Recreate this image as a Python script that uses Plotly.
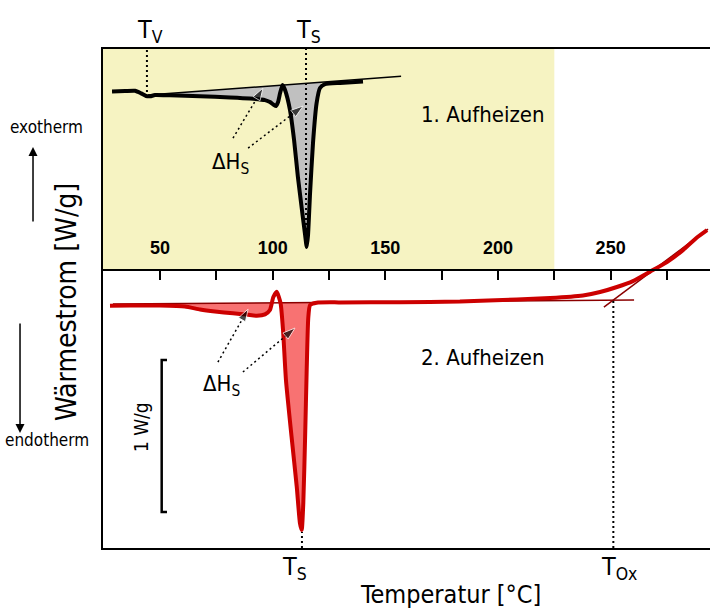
import numpy as np
import plotly.graph_objects as go

# ---------------- data ----------------
# 1. Aufheizen (first heating) : temperature [°C], heat flow [W/g] (relative)
T1 = [28.7, 34.5, 38.9, 41.6, 43.8, 45.6, 47.8, 54.4, 67.8, 81.1,
      89.9, 96.6, 98.8, 100.6, 101.5, 102.4, 103.3, 104.4, 105.5, 107.7,
      109.5, 111.2, 113.0, 114.4, 115.1, 115.7, 116.6, 117.9, 119.5, 121.0,
      123.2, 129.9, 140.1]
Q1 = [-0.010, -0.007, -0.005, -0.022, -0.039, -0.041, -0.033, -0.035, -0.041, -0.049,
      -0.056, -0.066, -0.079, -0.099, -0.105, -0.079, -0.020, 0.033, 0.000, -0.132,
      -0.329, -0.572, -0.789, -0.954, -1.033, -0.954, -0.678, -0.349, -0.086, 0.013,
      0.039, 0.047, 0.056]
BASE1_T = [44.7, 157.0]
BASE1_Q = [-0.033, 0.091]

# 2. Aufheizen (second heating)
T2 = [27.8, 36.7, 50.0, 61.1, 67.8, 74.4, 82.4, 88.6, 93.0, 96.6,
      98.8, 100.3, 101.8, 103.5, 104.6, 105.9, 108.4, 110.7, 112.1, 112.9,
      113.6, 114.4, 115.1, 115.8, 116.6, 119.5, 129.9, 156.5, 183.1, 208.4,
      223.1, 237.7, 245.3, 252.8, 259.9, 267.5, 275.0, 282.1, 288.3, 292.8]
Q2 = [-0.012, -0.010, -0.010, -0.016, -0.036, -0.049, -0.061, -0.069, -0.077, -0.068,
      -0.039, 0.046, 0.081, 0.007, -0.171, -0.500, -0.875, -1.204, -1.441, -1.487,
      -1.309, -0.875, -0.434, -0.092, -0.007, 0.009, 0.011, 0.012, 0.016, 0.030,
      0.039, 0.056, 0.079, 0.112, 0.151, 0.213, 0.276, 0.355, 0.438, 0.487]
BASE2_T = [29.1, 260.4]
BASE2_Q = [0.000, 0.026]
TANGENT2_T = [247.0, 293.2]
TANGENT2_Q = [-0.020, 0.493]

# characteristic temperatures
T_V = 44.2
T_S1 = 114.8
T_S2 = 113.0
T_OX = 251.2

# integration ranges (ΔH_S)
FILL1 = [(47.8, 104.4), (104.4, 121.5)]
FILL2 = [(56.0, 99.7), (103.4, 117.5)]

# scale bar
SCALE_WG = 1.0

# axis tick values
X_RANGE = [24.7, 294.1]
TICK_MAJOR = 50
TICK_MINOR = 25

# ---------------- styling / placement ----------------
OFF1 = 1.408     # vertical offset of first heating curve
Y_RANGE = [-1.605, 1.678]
MID = 0.5571     # paper position of the middle axis
FONT = "DejaVu Sans Condensed, DejaVu Sans, sans-serif"


def fill_poly(T, Q, bT, bQ, a, b, off=0.0):
    T = np.asarray(T, float)
    Q = np.asarray(Q, float)
    m = (T > a) & (T < b)
    xs = [a] + list(T[m]) + [b, b, a]
    ys = [np.interp(a, T, Q)] + list(Q[m]) + [np.interp(b, T, Q),
                                             np.interp(b, bT, bQ), np.interp(a, bT, bQ)]
    return xs, [v + off for v in ys]


fig = go.Figure()

# fills
for a, b in FILL1:
    xs, ys = fill_poly(T1, Q1, BASE1_T, BASE1_Q, a, b, OFF1)
    fig.add_trace(go.Scatter(x=xs, y=ys, fill="toself", fillcolor="#c0c0c0",
                             line=dict(width=0), mode="lines", hoverinfo="skip"))
for a, b in FILL2:
    xs, ys = fill_poly(T2, Q2, BASE2_T, BASE2_Q, a, b)
    fig.add_trace(go.Scatter(x=xs, y=ys, fill="toself", fillcolor="#f87272",
                             line=dict(width=0), mode="lines", hoverinfo="skip"))

# baselines / tangent
fig.add_trace(go.Scatter(x=BASE1_T, y=[q + OFF1 for q in BASE1_Q], mode="lines",
                         line=dict(color="black", width=1.5), hoverinfo="skip"))
fig.add_trace(go.Scatter(x=BASE2_T, y=BASE2_Q, mode="lines",
                         line=dict(color="#8b0000", width=1.5), hoverinfo="skip"))
fig.add_trace(go.Scatter(x=TANGENT2_T, y=TANGENT2_Q, mode="lines",
                         line=dict(color="#8b0000", width=1.5), hoverinfo="skip"))

# curves
fig.add_trace(go.Scatter(x=T1, y=[q + OFF1 for q in Q1], mode="lines",
                         line=dict(color="black", width=4, shape="spline", smoothing=0.5),
                         hoverinfo="skip"))
fig.add_trace(go.Scatter(x=T2, y=Q2, mode="lines",
                         line=dict(color="#cc0000", width=4, shape="spline", smoothing=0.5),
                         hoverinfo="skip"))

# dotted arrows to ΔH_S areas
ARROWS = [
    ([82.4, 95.7], [1.092, 1.421]),
    ([89.1, 113.5], [1.026, 1.303]),
    ([75.7, 89.1], [-0.382, -0.033]),
    ([86.8, 109.9], [-0.447, -0.158]),
]
for ax_, ay_ in ARROWS:
    fig.add_trace(go.Scatter(x=ax_, y=ay_, mode="lines+markers",
                             line=dict(color="black", width=1.5, dash="2px,3px"),
                             marker=dict(symbol="arrow", size=[0, 13], color="black",
                                         angleref="previous"),
                             hoverinfo="skip"))

# dummy trace for the middle axis
fig.add_trace(go.Scatter(x=[100], y=[None], xaxis="x2", mode="lines", hoverinfo="skip"))

dot = dict(color="black", width=2, dash="2px,3px")
shapes = [
    dict(type="rect", xref="x", yref="paper", x0=X_RANGE[0], x1=225, y0=MID, y1=1,
         fillcolor="#f6f3c2", line=dict(width=0), layer="below"),
    dict(type="line", xref="x", yref="y", x0=T_V, x1=T_V, y0=1.395, y1=Y_RANGE[1], line=dot),
    dict(type="line", xref="x", yref="y", x0=T_S1, x1=T_S1, y0=0.388, y1=Y_RANGE[1], line=dot),
    dict(type="line", xref="x", yref="y", x0=T_S2, x1=T_S2, y0=Y_RANGE[0], y1=-1.50, line=dot),
    dict(type="line", xref="x", yref="y", x0=T_OX, x1=T_OX, y0=Y_RANGE[0], y1=0.02, line=dot),
    # scale bar
    dict(type="path", xref="x", yref="y",
         path=f"M 53.1,-0.368 L 50.75,-0.368 L 50.75,{-0.368 - SCALE_WG} L 53.1,{-0.368 - SCALE_WG}",
         line=dict(color="black", width=2.5)),
]

ann = []
def txt(t, x, y, size, xref="x", yref="y", **kw):
    ann.append(dict(text=t, x=x, y=y, xref=xref, yref=yref, showarrow=False,
                    xanchor="center", yanchor="middle",
                    font=dict(family=FONT, size=size, color="black"), **kw))

txt("T<sub>V</sub>", 45.6, 1.036, 25, yref="paper")
txt("T<sub>S</sub>", 115.7, 1.036, 25, yref="paper")
txt("ΔH<sub>S</sub>", 81.5, 0.925, 22)
txt("ΔH<sub>S</sub>", 77.1, -0.536, 22)
txt("1. Aufheizen", 193.3, 1.25, 22)
txt("2. Aufheizen", 193.3, -0.349, 22)
txt("1 W/g", 41.6, -0.809, 19, textangle=-90)
txt("T<sub>S</sub>", 109.5, -0.041, 25, yref="paper")
txt("T<sub>Ox</sub>", 253.5, -0.041, 25, yref="paper")
txt("Temperatur [°C]", 0.5733, -0.093, 25, xref="paper", yref="paper")
txt("Wärmestrom [W/g]", -0.0593, 0.493, 28, xref="paper", yref="paper", textangle=-90)
txt("exotherm", -0.0923, 0.8437, 17, xref="paper", yref="paper")
txt("endotherm", -0.0923, 0.2164, 17, xref="paper", yref="paper")
# exo / endo arrows
ann.append(dict(x=-0.1153, y=0.8036, xref="paper", yref="paper", ax=0, ay=76, text="",
                showarrow=True, arrowhead=2, arrowsize=1.2, arrowwidth=1.5, arrowcolor="black"))
ann.append(dict(x=-0.1367, y=0.2305, xref="paper", yref="paper", ax=0, ay=-111, text="",
                showarrow=True, arrowhead=2, arrowsize=1.2, arrowwidth=1.5, arrowcolor="black"))

fig.update_layout(
    width=710, height=610,
    margin=dict(l=103, r=0, t=49, b=62),
    paper_bgcolor="white", plot_bgcolor="white",
    showlegend=False,
    shapes=shapes, annotations=ann,
    font=dict(family=FONT),
    xaxis=dict(range=X_RANGE, showgrid=False, zeroline=False, showticklabels=False,
               ticks="", showline=True, mirror=True, linecolor="black", linewidth=2),
    yaxis=dict(range=Y_RANGE, showgrid=False, zeroline=False, showticklabels=False,
               ticks="", showline=True, linecolor="black", linewidth=2),
    xaxis2=dict(range=X_RANGE, overlaying="x", anchor="free", position=MID, side="top",
                showgrid=False, zeroline=False, showline=True, linecolor="black", linewidth=2,
                ticks="inside", ticklen=9, tickwidth=2, tickcolor="black",
                tick0=0, dtick=TICK_MAJOR, ticklabelstandoff=8,
                tickfont=dict(family="Liberation Sans, Arial", size=18, color="black",
                              weight="bold"),
                minor=dict(dtick=TICK_MINOR, tick0=0, ticks="inside", ticklen=9,
                           tickwidth=2, tickcolor="black", showgrid=False)),
)

fig.write_html("out.html")
